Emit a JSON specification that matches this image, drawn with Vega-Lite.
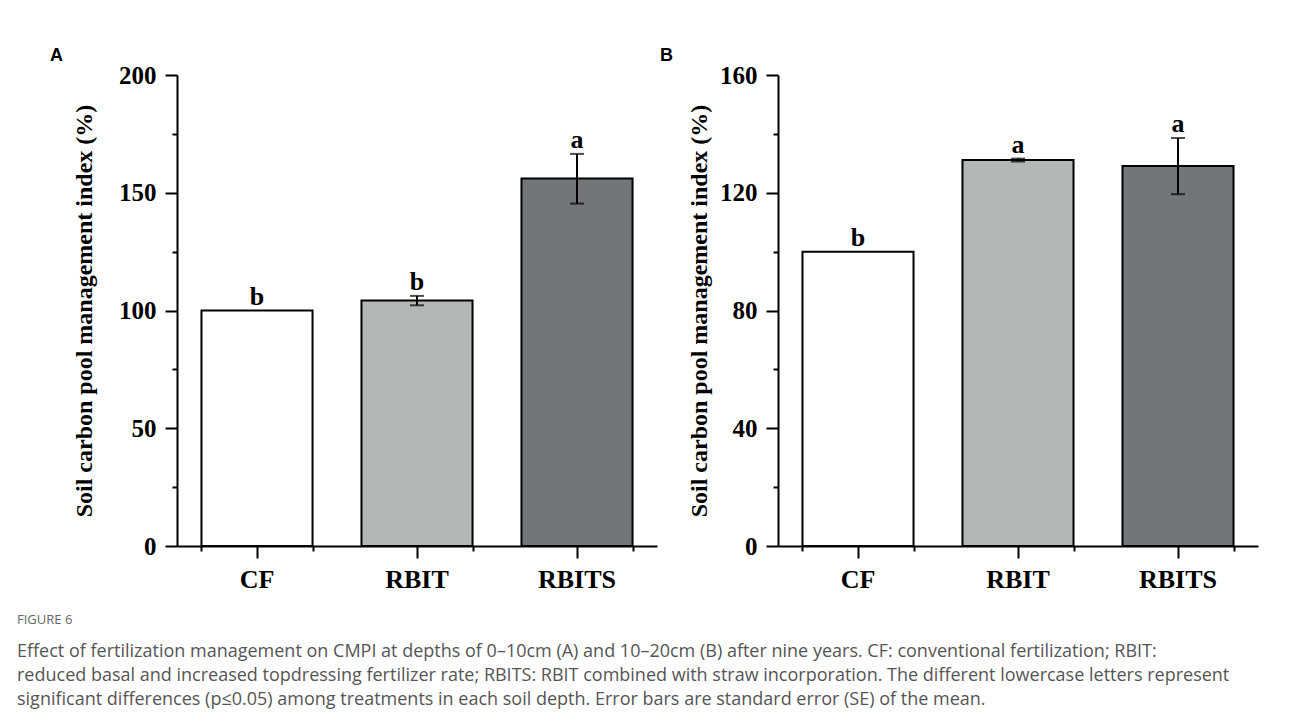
{
  "$schema": "https://vega.github.io/schema/vega-lite/v6.json",
  "padding": {"left": 17, "top": 47, "right": 20, "bottom": 5},
  "background": "white",
  "datasets": {
    "cmpi": [
      {"panel": "A", "treatment": "CF", "mean": 100, "se": 0, "lo": 100, "hi": 100, "letter": "b"},
      {"panel": "A", "treatment": "RBIT", "mean": 104.2, "se": 2.0, "lo": 102.2, "hi": 106.2, "letter": "b"},
      {"panel": "A", "treatment": "RBITS", "mean": 156, "se": 10.5, "lo": 145.4, "hi": 166.5, "letter": "a"},
      {"panel": "B", "treatment": "CF", "mean": 100, "se": 0, "lo": 100, "hi": 100, "letter": "b"},
      {"panel": "B", "treatment": "RBIT", "mean": 131.1, "se": 0.5, "lo": 130.6, "hi": 131.6, "letter": "a"},
      {"panel": "B", "treatment": "RBITS", "mean": 129.1, "se": 9.5, "lo": 119.5, "hi": 138.6, "letter": "a"}
    ]
  },
  "config": {
    "view": {"stroke": null},
    "axis": {
      "domainColor": "black", "domainWidth": 2, "tickColor": "black", "tickWidth": 2, "grid": false,
      "labelFont": "Liberation Serif", "labelFontWeight": "bold", "labelColor": "black",
      "titleFont": "Liberation Serif", "titleFontWeight": "bold", "titleColor": "black"
    }
  },
  "title": {
    "text": "FIGURE 6",
    "subtitle": [
      "Effect of fertilization management on CMPI at depths of 0–10cm (A) and 10–20cm (B) after nine years. CF: conventional fertilization; RBIT:",
      "reduced basal and increased topdressing fertilizer rate; RBITS: RBIT combined with straw incorporation. The different lowercase letters represent",
      "significant differences (p≤0.05) among treatments in each soil depth. Error bars are standard error (SE) of the mean."
    ],
    "orient": "bottom", "anchor": "start", "frame": "bounds", "dx": -33, "offset": 22,
    "font": "Open Sans", "fontSize": 13, "fontWeight": "normal", "color": "#666666",
    "subtitleFont": "Open Sans", "subtitleFontSize": 18, "subtitleColor": "#555555",
    "subtitleLineHeight": 24, "subtitlePadding": 16
  },
  "spacing": 3,
  "hconcat": [
    {
      "width": 480, "height": 471,
      "title": {"text": "A", "anchor": "start", "frame": "group", "dx": -127, "offset": -2, "font": "Liberation Sans", "fontSize": 18, "fontWeight": "bold", "color": "black"},
      "data": {"name": "cmpi"},
      "transform": [{"filter": "datum.panel == 'A'"}],
      "layer": [
        {
          "mark": {"type": "bar", "stroke": "black", "strokeWidth": 2},
          "encoding": {
            "x": {"field": "treatment", "type": "nominal", "sort": ["CF", "RBIT", "RBITS"],
                  "scale": {"paddingInner": 0.306, "paddingOuter": 0.153},
                  "axis": {"orient": "bottom", "title": null, "labelAngle": 0, "labelFontSize": 26, "tickSize": 12, "labelPadding": 8}},
            "y": {"field": "mean", "type": "quantitative", "scale": {"domain": [0, 200], "nice": false},
                  "axis": {"orient": "left", "title": "Soil carbon pool management index (%)", "values": [0, 50, 100, 150, 200], "tickSize": 12, "labelFontSize": 25, "labelPadding": 9, "titleFontSize": 24, "titlePadding": 22}},
            "fill": {"field": "treatment", "type": "nominal", "scale": {"domain": ["CF", "RBIT", "RBITS"], "range": ["#ffffff", "#b4b7b8", "#737678"]}, "legend": null}
          }
        },
        {
          "transform": [{"filter": "datum.se > 0"}],
          "mark": {"type": "rule", "strokeWidth": 2, "color": "black"},
          "encoding": {
            "x": {"field": "treatment", "type": "nominal", "sort": ["CF", "RBIT", "RBITS"],
                  "axis": {"orient": "bottom", "title": null, "labels": false, "domain": false, "tickBand": "extent", "tickSize": 5}},
            "y": {"field": "lo", "type": "quantitative",
                  "axis": {"orient": "left", "title": null, "labels": false, "domain": false, "values": [25, 75, 125, 175], "tickSize": 5}},
            "y2": {"field": "hi"}
          }
        },
        {
          "transform": [{"filter": "datum.se > 0"}],
          "mark": {"type": "tick", "size": 14, "thickness": 2, "color": "black"},
          "encoding": {
            "x": {"field": "treatment", "type": "nominal", "sort": ["CF", "RBIT", "RBITS"], "axis": null},
            "y": {"field": "lo", "type": "quantitative", "axis": null}
          }
        },
        {
          "transform": [{"filter": "datum.se > 0"}],
          "mark": {"type": "tick", "size": 14, "thickness": 2, "color": "black"},
          "encoding": {
            "x": {"field": "treatment", "type": "nominal", "sort": ["CF", "RBIT", "RBITS"], "axis": null},
            "y": {"field": "hi", "type": "quantitative", "axis": null}
          }
        },
        {
          "mark": {"type": "text", "dy": -6, "baseline": "alphabetic", "font": "Liberation Serif", "fontWeight": "bold", "fontSize": 26, "color": "black"},
          "encoding": {
            "x": {"field": "treatment", "type": "nominal", "sort": ["CF", "RBIT", "RBITS"], "axis": null},
            "y": {"field": "hi", "type": "quantitative", "axis": null},
            "text": {"field": "letter"}
          }
        }
      ],
      "resolve": {"axis": {"x": "independent", "y": "independent"}}
    },
    {
      "width": 480, "height": 471,
      "title": {"text": "B", "anchor": "start", "frame": "group", "dx": -118, "offset": -2, "font": "Liberation Sans", "fontSize": 18, "fontWeight": "bold", "color": "black"},
      "data": {"name": "cmpi"},
      "transform": [{"filter": "datum.panel == 'B'"}],
      "layer": [
        {
          "mark": {"type": "bar", "stroke": "black", "strokeWidth": 2},
          "encoding": {
            "x": {"field": "treatment", "type": "nominal", "sort": ["CF", "RBIT", "RBITS"],
                  "scale": {"paddingInner": 0.306, "paddingOuter": 0.153},
                  "axis": {"orient": "bottom", "title": null, "labelAngle": 0, "labelFontSize": 26, "tickSize": 12, "labelPadding": 8}},
            "y": {"field": "mean", "type": "quantitative", "scale": {"domain": [0, 160], "nice": false},
                  "axis": {"orient": "left", "title": "Soil carbon pool management index (%)", "values": [0, 40, 80, 120, 160], "tickSize": 12, "labelFontSize": 25, "labelPadding": 9, "titleFontSize": 24, "titlePadding": 8}},
            "fill": {"field": "treatment", "type": "nominal", "scale": {"domain": ["CF", "RBIT", "RBITS"], "range": ["#ffffff", "#b4b7b8", "#737678"]}, "legend": null}
          }
        },
        {
          "transform": [{"filter": "datum.se > 0"}],
          "mark": {"type": "rule", "strokeWidth": 2, "color": "black"},
          "encoding": {
            "x": {"field": "treatment", "type": "nominal", "sort": ["CF", "RBIT", "RBITS"],
                  "axis": {"orient": "bottom", "title": null, "labels": false, "domain": false, "tickBand": "extent", "tickSize": 5}},
            "y": {"field": "lo", "type": "quantitative",
                  "axis": {"orient": "left", "title": null, "labels": false, "domain": false, "values": [20, 60, 100, 140], "tickSize": 5}},
            "y2": {"field": "hi"}
          }
        },
        {
          "transform": [{"filter": "datum.se > 0"}],
          "mark": {"type": "tick", "size": 14, "thickness": 2, "color": "black"},
          "encoding": {
            "x": {"field": "treatment", "type": "nominal", "sort": ["CF", "RBIT", "RBITS"], "axis": null},
            "y": {"field": "lo", "type": "quantitative", "axis": null}
          }
        },
        {
          "transform": [{"filter": "datum.se > 0"}],
          "mark": {"type": "tick", "size": 14, "thickness": 2, "color": "black"},
          "encoding": {
            "x": {"field": "treatment", "type": "nominal", "sort": ["CF", "RBIT", "RBITS"], "axis": null},
            "y": {"field": "hi", "type": "quantitative", "axis": null}
          }
        },
        {
          "mark": {"type": "text", "dy": -6, "baseline": "alphabetic", "font": "Liberation Serif", "fontWeight": "bold", "fontSize": 26, "color": "black"},
          "encoding": {
            "x": {"field": "treatment", "type": "nominal", "sort": ["CF", "RBIT", "RBITS"], "axis": null},
            "y": {"field": "hi", "type": "quantitative", "axis": null},
            "text": {"field": "letter"}
          }
        }
      ],
      "resolve": {"axis": {"x": "independent", "y": "independent"}}
    }
  ]
}
